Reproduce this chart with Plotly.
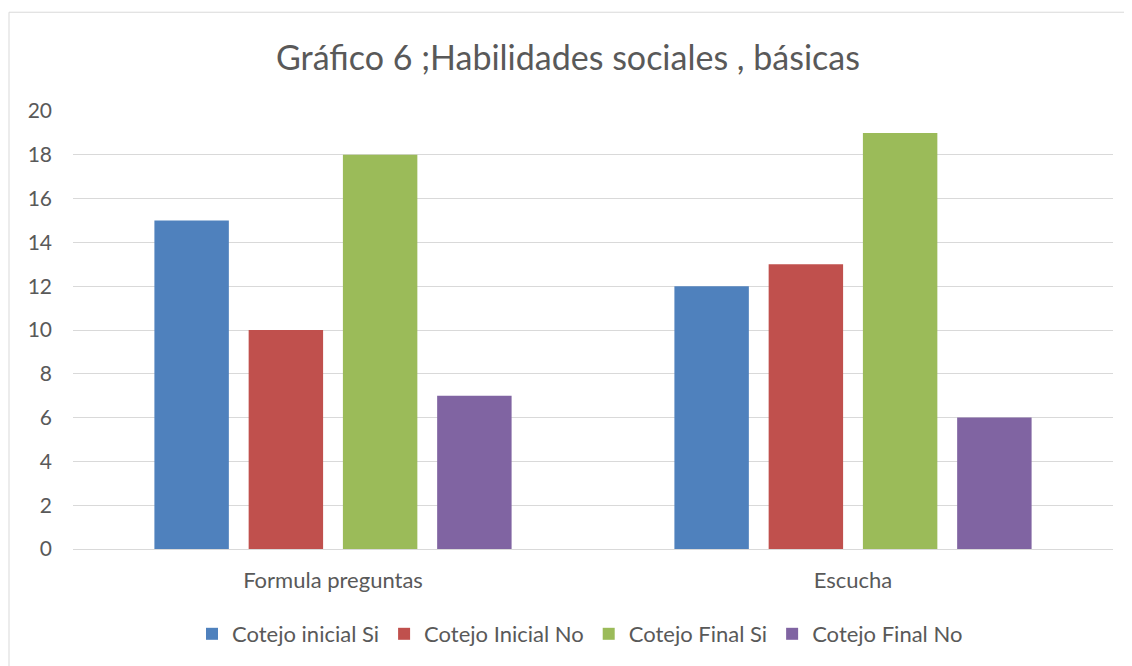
import plotly.graph_objects as go

# Data
categories = ['Formula preguntas', 'Escucha']
series_names = ['Cotejo inicial Si', 'Cotejo Inicial No', 'Cotejo Final Si', 'Cotejo Final No']
inicial_si = [15, 12]
inicial_no = [10, 13]
final_si = [18, 19]
final_no = [7, 6]
y_ticks = [0, 2, 4, 6, 8, 10, 12, 14, 16, 18, 20]

COLORS = ['#4F81BD', '#C0504D', '#9BBB59', '#8064A2']
TEXT = '#595959'
GRID = '#D9D9D9'

fig = go.Figure()
for name, vals, color in zip(series_names, [inicial_si, inicial_no, final_si, final_no], COLORS):
    fig.add_trace(go.Bar(x=categories, y=vals, name=name, marker_color=color,
                         marker_line_width=0))

# page body has an 8px margin, so the figure is a bit smaller than the window
W, H = 1124, 658
L, R, T, B = 65, 19, 103, 116
pw, ph = W - L - R, H - T - B

# light chart frame
fig.add_shape(type='rect', xref='paper', yref='paper',
              x0=(1 - L) / pw, x1=(W + 20 - L) / pw,
              y0=(H - B - (H + 20)) / ph, y1=(H - B - 4) / ph,
              line=dict(color='#D9D9D9', width=1), fillcolor='rgba(0,0,0,0)', layer='below')

fig.update_layout(
    width=W, height=H,
    margin=dict(l=L, r=R, t=T, b=B),
    title=dict(text='Gráfico 6 ;Habilidades sociales , básicas', x=(568 - 8) / W, xanchor='center',
               y=(H - 50) / H, yanchor='middle',
               font=dict(size=34, color=TEXT)),
    font=dict(family='Lato, Open Sans, sans-serif', size=22, color=TEXT),
    barmode='group', bargap=0.275, bargroupgap=0.21,
    plot_bgcolor='white', paper_bgcolor='white',
    legend=dict(orientation='h', x=(580 - 8 - L) / pw, xanchor='center', y=-84 / ph, yanchor='middle',
                font=dict(size=22, color=TEXT), itemwidth=30),
)
fig.update_yaxes(range=[0, 20], tickvals=y_ticks, showgrid=True, gridcolor=GRID, gridwidth=1,
                 zeroline=True, zerolinecolor=GRID, zerolinewidth=1, showline=False,
                 ticks='', ticklabelstandoff=20, tickfont=dict(size=21, color=TEXT))
fig.update_xaxes(showline=False, ticks='', tickfont=dict(size=22, color=TEXT),
                 ticklabelstandoff=16)

fig.write_html('out.html')
